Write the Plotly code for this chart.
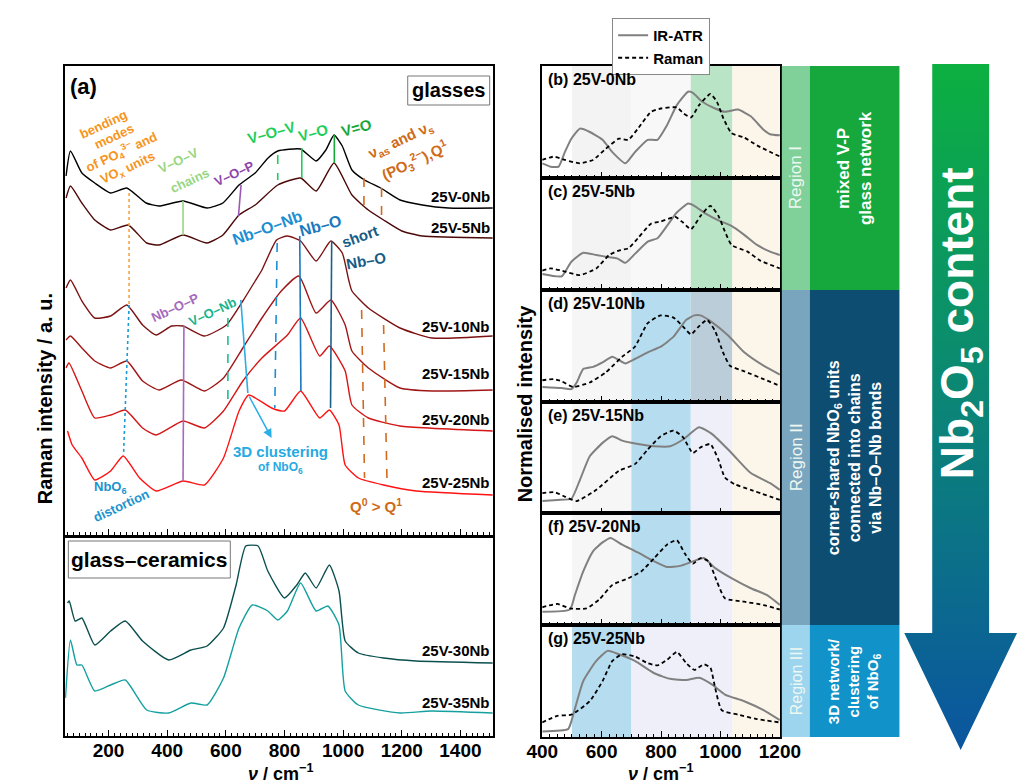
import plotly.graph_objects as go

W, H = 1032, 782
FONT = "Arial, 'Liberation Sans', Helvetica, sans-serif"

# ---------------- data: panel (a), Raman spectra (arbitrary offset intensity) ----------------
wn_0Nb = [55, 70, 109, 153, 207, 262, 328, 372, 454, 536, 590, 645, 700, 744, 777, 855, 908, 941, 969, 997, 1030, 1073, 1128, 1194, 1270, 1359, 1510]
int_0Nb = [359, 384, 362, 352, 342, 347, 332, 329, 334, 327, 332, 350, 362, 377, 384, 386, 374, 385, 400, 389, 365, 355, 347, 335, 330, 327, 327]

wn_5Nb = [55, 70, 109, 153, 207, 267, 330, 372, 454, 536, 590, 645, 700, 777, 855, 908, 969, 1030, 1086, 1138, 1200, 1270, 1510]
int_5Nb = [337, 349, 332, 315, 305, 310, 292, 290, 300, 292, 300, 320, 330, 350, 357, 344, 372, 340, 325, 315, 304, 299, 297]

wn_10Nb = [55, 70, 109, 153, 207, 262, 316, 362, 415, 454, 527, 602, 658, 700, 723, 773, 810, 855, 908, 958, 997, 1019, 1030, 1086, 1194, 1303, 1510]
int_10Nb = [247, 255, 234, 217, 219, 230, 210, 200, 209, 209, 199, 210, 234, 254, 265, 295, 299, 294, 274, 294, 282, 255, 244, 227, 207, 197, 199]

wn_15Nb = [55, 70, 109, 153, 207, 262, 316, 372, 448, 527, 592, 658, 723, 789, 849, 908, 958, 1007, 1030, 1086, 1194, 1303, 1510]
int_15Nb = [195, 199, 187, 174, 167, 174, 154, 145, 155, 144, 157, 187, 217, 244, 259, 222, 235, 210, 184, 167, 147, 144, 145]

wn_20Nb = [55, 65, 109, 153, 207, 257, 316, 362, 454, 527, 592, 658, 723, 810, 855, 920, 953, 1007, 1030, 1086, 1194, 1510]
int_20Nb = [167, 172, 144, 117, 120, 125, 107, 100, 114, 107, 124, 154, 177, 200, 217, 179, 189, 164, 130, 117, 109, 104]

wn_25Nb = [60, 76, 109, 153, 207, 250, 306, 362, 454, 527, 592, 645, 678, 756, 800, 855, 920, 953, 986, 1007, 1052, 1138, 1249, 1510]
int_25Nb = [104, 90, 77, 55, 64, 79, 57, 44, 54, 50, 77, 124, 140, 127, 124, 144, 117, 125, 110, 70, 57, 50, 44, 40]

wn_30Nb = [60, 66, 86, 109, 153, 207, 257, 316, 405, 481, 536, 592, 635, 668, 710, 743, 800, 842, 871, 908, 953, 986, 1007, 1052, 1138, 1249, 1510]
int_30Nb = [133, 135, 115, 118, 91, 105, 115, 95, 76, 86, 90, 108, 151, 190, 190, 165, 138, 151, 163, 148, 171, 145, 95, 83, 78, 75, 73]

wn_35Nb = [53, 70, 92, 109, 153, 207, 257, 330, 405, 481, 536, 592, 645, 690, 743, 777, 810, 855, 908, 948, 986, 1007, 1052, 1194, 1300, 1510]
int_35Nb = [38, 96, 71, 71, 45, 51, 56, 26, 23, 33, 31, 58, 108, 131, 125, 116, 125, 153, 125, 130, 111, 45, 31, 23, 25, 23]

glass_names = ["25V-0Nb", "25V-5Nb", "25V-10Nb", "25V-15Nb", "25V-20Nb", "25V-25Nb"]
ceramic_names = ["25V-30Nb", "25V-35Nb"]

# ---------------- data: panels (b)-(g), normalised IR-ATR and Raman ----------------
ir_wn_b = [400, 428, 455, 476, 498, 527, 560, 603, 636, 680, 712, 755, 788, 820, 853, 891, 907, 939, 982, 1015, 1059, 1102, 1145, 1167, 1200]
ir_b = [0.13, 0.10, 0.10, 0.23, 0.35, 0.44, 0.41, 0.34, 0.23, 0.13, 0.23, 0.34, 0.34, 0.47, 0.65, 0.77, 0.76, 0.68, 0.62, 0.59, 0.61, 0.55, 0.43, 0.39, 0.38]
ra_wn_b = [400, 440, 476, 527, 571, 614, 658, 690, 722, 766, 799, 853, 874, 901, 928, 966, 988, 1010, 1037, 1080, 1123, 1200]
ra_b = [0.16, 0.19, 0.16, 0.13, 0.16, 0.26, 0.35, 0.34, 0.44, 0.59, 0.62, 0.63, 0.58, 0.54, 0.65, 0.75, 0.68, 0.53, 0.40, 0.36, 0.29, 0.19]

ir_wn_c = [400, 466, 498, 538, 582, 625, 652, 680, 712, 755, 788, 820, 853, 891, 912, 950, 993, 1037, 1080, 1123, 1167, 1200]
ir_c = [0.14, 0.12, 0.25, 0.33, 0.31, 0.29, 0.28, 0.24, 0.32, 0.43, 0.46, 0.57, 0.69, 0.77, 0.75, 0.68, 0.62, 0.57, 0.49, 0.40, 0.34, 0.31]
ra_wn_c = [400, 428, 466, 527, 582, 625, 658, 690, 722, 766, 799, 848, 874, 901, 933, 966, 993, 1015, 1037, 1091, 1134, 1200]
ra_c = [0.17, 0.19, 0.17, 0.13, 0.19, 0.31, 0.35, 0.37, 0.46, 0.59, 0.61, 0.65, 0.60, 0.54, 0.66, 0.75, 0.66, 0.52, 0.40, 0.34, 0.26, 0.19]

ir_wn_d = [400, 466, 498, 516, 538, 571, 603, 636, 658, 680, 712, 755, 799, 842, 885, 912, 933, 971, 1026, 1080, 1145, 1200]
ir_d = [0.13, 0.12, 0.11, 0.17, 0.29, 0.31, 0.35, 0.40, 0.37, 0.34, 0.38, 0.44, 0.49, 0.58, 0.73, 0.77, 0.77, 0.71, 0.59, 0.44, 0.32, 0.24]
ra_wn_d = [400, 440, 466, 504, 560, 614, 669, 712, 755, 799, 842, 874, 901, 923, 955, 982, 1010, 1032, 1080, 1145, 1200]
ra_d = [0.19, 0.20, 0.18, 0.13, 0.17, 0.26, 0.40, 0.49, 0.70, 0.77, 0.75, 0.67, 0.60, 0.66, 0.73, 0.63, 0.43, 0.32, 0.27, 0.20, 0.14]

ir_wn_e = [400, 451, 498, 527, 560, 603, 636, 669, 722, 777, 831, 874, 928, 971, 1037, 1102, 1167, 1200]
ir_e = [0.11, 0.12, 0.13, 0.30, 0.51, 0.63, 0.69, 0.65, 0.62, 0.60, 0.60, 0.66, 0.77, 0.71, 0.54, 0.36, 0.27, 0.21]
ra_wn_e = [400, 440, 476, 516, 582, 658, 712, 755, 799, 842, 874, 907, 933, 966, 993, 1015, 1048, 1102, 1200]
ra_e = [0.18, 0.19, 0.15, 0.11, 0.21, 0.38, 0.44, 0.57, 0.69, 0.74, 0.68, 0.54, 0.59, 0.62, 0.48, 0.32, 0.26, 0.21, 0.12]

ir_wn_f = [400, 493, 510, 538, 571, 603, 630, 669, 722, 777, 820, 864, 907, 944, 982, 1037, 1102, 1156, 1200]
ir_f = [0.12, 0.14, 0.27, 0.48, 0.66, 0.74, 0.78, 0.72, 0.65, 0.57, 0.52, 0.53, 0.57, 0.60, 0.51, 0.42, 0.33, 0.27, 0.18]
ra_wn_f = [400, 451, 493, 549, 592, 636, 690, 733, 777, 820, 853, 880, 907, 933, 960, 988, 1015, 1080, 1145, 1200]
ra_f = [0.16, 0.19, 0.15, 0.15, 0.23, 0.36, 0.42, 0.48, 0.60, 0.72, 0.76, 0.64, 0.55, 0.60, 0.57, 0.39, 0.24, 0.21, 0.18, 0.14]

ir_wn_g = [400, 487, 498, 538, 582, 620, 658, 712, 777, 831, 885, 928, 971, 1015, 1080, 1145, 1200]
ir_g = [0.05, 0.07, 0.14, 0.50, 0.68, 0.77, 0.74, 0.68, 0.57, 0.52, 0.51, 0.53, 0.47, 0.38, 0.32, 0.24, 0.15]
ra_wn_g = [400, 451, 498, 560, 603, 636, 669, 712, 755, 788, 820, 853, 885, 912, 944, 966, 982, 1004, 1059, 1123, 1200]
ra_g = [0.13, 0.19, 0.20, 0.32, 0.50, 0.68, 0.74, 0.72, 0.66, 0.64, 0.69, 0.76, 0.66, 0.60, 0.65, 0.62, 0.44, 0.24, 0.20, 0.16, 0.13]

panel_labels = ["(b) 25V-0Nb", "(c) 25V-5Nb", "(d) 25V-10Nb", "(e) 25V-15Nb", "(f) 25V-20Nb", "(g) 25V-25Nb"]

left_ticks = [200, 400, 600, 800, 1000, 1200, 1400]
right_ticks = [400, 600, 800, 1000, 1200]

# ---------------- helpers ----------------
def X(p):
    return p / W

def Y(p):
    return 1 - p / H

fig = go.Figure()

SMOOTH = 0.5

# ---------------- left panel (a) ----------------
glass_colors = ["#000000", "#4d0909", "#7d1212", "#a01616", "#d41616", "#ff1212"]
glass_wn = [wn_0Nb, wn_5Nb, wn_10Nb, wn_15Nb, wn_20Nb, wn_25Nb]
glass_int = [int_0Nb, int_5Nb, int_10Nb, int_15Nb, int_20Nb, int_25Nb]
for name, xs, ys, c in zip(glass_names, glass_wn, glass_int, glass_colors):
    fig.add_trace(go.Scatter(x=xs, y=ys, mode="lines", name=name,
                             line=dict(color=c, width=1.4, shape="spline", smoothing=SMOOTH),
                             xaxis="x", yaxis="y", showlegend=False, hoverinfo="skip"))

cer_colors = ["#0b4f4f", "#15a0a0"]
for name, xs, ys, c in zip(ceramic_names, [wn_30Nb, wn_35Nb], [int_30Nb, int_35Nb], cer_colors):
    fig.add_trace(go.Scatter(x=xs, y=ys, mode="lines", name=name,
                             line=dict(color=c, width=1.4, shape="spline", smoothing=SMOOTH),
                             xaxis="x2", yaxis="y2", showlegend=False, hoverinfo="skip"))

# ---------------- right panels (b)-(g) ----------------
ir_sets = [(ir_wn_b, ir_b), (ir_wn_c, ir_c), (ir_wn_d, ir_d), (ir_wn_e, ir_e), (ir_wn_f, ir_f), (ir_wn_g, ir_g)]
ra_sets = [(ra_wn_b, ra_b), (ra_wn_c, ra_c), (ra_wn_d, ra_d), (ra_wn_e, ra_e), (ra_wn_f, ra_f), (ra_wn_g, ra_g)]
for k in range(6):
    xa, ya = f"x{k+3}", f"y{k+3}"
    fig.add_trace(go.Scatter(x=ir_sets[k][0], y=ir_sets[k][1], mode="lines", name="<b>IR-ATR</b>",
                             line=dict(color="#808080", width=2, shape="spline", smoothing=SMOOTH),
                             xaxis=xa, yaxis=ya, showlegend=(k == 0), legendrank=1, hoverinfo="skip"))
    fig.add_trace(go.Scatter(x=ra_sets[k][0], y=ra_sets[k][1], mode="lines", name="<b>Raman</b>",
                             line=dict(color="black", width=1.8, dash="4px,3px", shape="spline", smoothing=SMOOTH),
                             xaxis=xa, yaxis=ya, showlegend=(k == 0), legendrank=2, hoverinfo="skip"))

# ---------------- arrow with gradient ----------------
arrow_x = [942, 1001, 1001, 1030, 971.5, 913, 942, 942]
arrow_y = [H - 56, H - 56, H - 625, H - 625, H - 742, H - 625, H - 625, H - 56]
fig.add_trace(go.Scatter(x=arrow_x, y=arrow_y, xaxis="x9", yaxis="y9", mode="lines", fill="toself",
                         line=dict(width=0, color="rgba(0,0,0,0)"),
                         fillgradient=dict(type="vertical", colorscale=[[0, "#0b55a0"], [0.5, "#0b8577"], [1, "#0cb040"]]),
                         showlegend=False, hoverinfo="skip"))

# ---------------- axes ----------------
tickfont = dict(family=FONT, size=19, color="black")
LX0, LX1 = 42.7, 486.7
RX0, RX1 = 537.5, 784.0

def xax(domain, rng, tvals, minor, labels, anchor):
    return dict(domain=domain, range=rng, anchor=anchor, showline=True, linecolor="black", linewidth=1.6, mirror=True,
                ticks="inside", ticklen=6, tickwidth=1.3, tickcolor="black",
                tickmode="array", tickvals=tvals, ticktext=[f"<b>{v}</b>" for v in tvals],
                minor=dict(ticks="inside", ticklen=3, tickwidth=1, tickcolor="black", dtick=minor, tick0=0),
                showgrid=False, zeroline=False, showticklabels=labels, tickfont=tickfont, ticklabelstandoff=-4)

def yax(domain, rng, anchor):
    return dict(domain=domain, range=rng, anchor=anchor, showline=True, linecolor="black", linewidth=1.6, mirror=True,
                ticks="", showticklabels=False, showgrid=False, zeroline=False)

layout_axes = {}
layout_axes["xaxis"] = xax([X(LX0), X(LX1)], [52, 1512], left_ticks, 20, False, "y")
layout_axes["yaxis"] = yax([Y(527), Y(58)], [0, 469], "x")
layout_axes["xaxis2"] = xax([X(LX0), X(LX1)], [52, 1512], left_ticks, 20, True, "y2")
layout_axes["yaxis2"] = yax([Y(728), Y(530)], [0, 198], "x2")
ph = (729 - 58) / 6.0
for k in range(6):
    top = 58 + k * ph
    bot = top + ph
    layout_axes[f"xaxis{k+3}"] = xax([X(RX0), X(RX1)], [400, 1200], right_ticks, 25, k == 5, f"y{k+3}")
    layout_axes[f"yaxis{k+3}"] = yax([Y(bot), Y(top)], [0, 1], f"x{k+3}")
layout_axes["xaxis9"] = dict(domain=[0, 1], range=[0, W], visible=False, anchor="y9", fixedrange=True)
layout_axes["yaxis9"] = dict(domain=[0, 1], range=[0, H], visible=False, anchor="x9", fixedrange=True)

fig.update_layout(**layout_axes)

# ---------------- shapes ----------------
shapes = []
bands = [
    [(500, 700, "#f3f3f3"), (700, 900, "#f8f8f8"), (900, 1040, "#b9e5c6"), (1040, 1200, "#fcf5ea")],
    [(500, 700, "#f3f3f3"), (700, 900, "#f8f8f8"), (900, 1040, "#b9e5c6"), (1040, 1200, "#fcf5ea")],
    [(500, 700, "#f6f6f6"), (700, 900, "#b6dcef"), (900, 1040, "#bccdda"), (1040, 1200, "#fcf5ea")],
    [(500, 700, "#f6f6f6"), (700, 900, "#b6dcef"), (900, 1040, "#eeeff8"), (1040, 1200, "#fcf5ea")],
    [(500, 700, "#f6f6f6"), (700, 900, "#b6dcef"), (900, 1040, "#eeeff8"), (1040, 1200, "#fcf5ea")],
    [(500, 700, "#b6dcef"), (700, 1040, "#eeeff8"), (1040, 1200, "#fcf5ea")],
]
for k, bl in enumerate(bands):
    for x0, x1, c in bl:
        shapes.append(dict(type="rect", xref=f"x{k+3}", yref=f"y{k+3} domain", x0=x0, x1=x1, y0=0, y1=1,
                           fillcolor=c, line=dict(width=0), layer="below"))

# marker lines in panel (a): (x0, y0, x1, y1, color, dash)
marks = [
    (270, 342, 270, 230, "#f9a23b", "dot"),
    (270, 230, 251, 80, "#1a9ad6", "dot"),
    (454, 334, 454, 300, "#98d67f", "solid"),
    (652, 350, 643, 319, "#9b59b6", "solid"),
    (457, 209, 454, 54, "#a569bd", "solid"),
    (777, 380, 777, 355, "#1fce5a", "dash"),
    (859, 387, 859, 357, "#1fce5a", "solid"),
    (970, 400, 970, 372, "#18a83a", "solid"),
    (1071, 357, 1071, 329, "#d2691e", "dash"),
    (1131, 347, 1131, 317, "#d2691e", "dash"),
    (775, 292, 767, 127, "#1b8fd2", "dash"),
    (852, 299, 856, 144, "#1a78bd", "solid"),
    (961, 294, 957, 127, "#1b5f8b", "solid"),
    (607, 217, 607, 130, "#17c08f", "dash"),
    (651, 235, 675, 142, "#29aee6", "solid"),
    (1063, 225, 1073, 57, "#d2691e", "dash"),
    (1138, 210, 1150, 50, "#d2691e", "dash"),
]
for x0, y0, x1, y1, c, d in marks:
    shapes.append(dict(type="line", xref="x", yref="y", x0=x0, y0=y0, x1=x1, y1=y1, line=dict(color=c, width=1.6, dash=d)))

shapes.append(dict(type="rect", xref="paper", yref="paper", x0=X(398), x1=X(483), y0=Y(97), y1=Y(68),
                   line=dict(color="#777777", width=1), fillcolor="white"))
shapes.append(dict(type="rect", xref="paper", yref="paper", x0=X(46), x1=X(214), y0=Y(570), y1=Y(533),
                   line=dict(color="#777777", width=1), fillcolor="white"))

regions = [
    (58, 282, "#80d09a", "#16a83c"),
    (282, 617, "#7aa5be", "#0d4d72"),
    (617, 729, "#9dd4ee", "#1193c9"),
]
for y0, y1, c1, c2 in regions:
    shapes.append(dict(type="rect", xref="paper", yref="paper", x0=X(786), x1=X(815), y0=Y(y1), y1=Y(y0),
                       fillcolor=c1, line=dict(width=0)))
    shapes.append(dict(type="rect", xref="paper", yref="paper", x0=X(815), x1=X(908), y0=Y(y1), y1=Y(y0),
                       fillcolor=c2, line=dict(width=0)))

fig.update_layout(shapes=shapes)

# ---------------- annotations ----------------
def txt(text, x, y, color="black", size=14, angle=0, bold=True, xanchor="center", yanchor="middle"):
    fig.add_annotation(text=(f"<b>{text}</b>" if bold else text), x=X(x), y=Y(y), xref="paper", yref="paper",
                       showarrow=False, font=dict(family=FONT, size=size, color=color), textangle=angle,
                       xanchor=xanchor, yanchor=yanchor)

txt("(a)", 62, 78, size=22)
txt("glasses", 440, 82, size=20)
txt("glass–ceramics", 130, 551, size=21)

OR = "#f7941d"
txt("bending", 82, 116, OR, 13, -25)
txt("modes", 93, 128, OR, 13, -25)
txt("of PO<sub>4</sub><sup>3−</sup> and", 101, 144, OR, 13, -25)
txt("VO<sub>x</sub> units", 108, 161, OR, 13, -25)
txt("V–O–V", 160, 152, "#98d67f", 13, -25)
txt("chains", 172, 172, "#98d67f", 13, -25)
txt("V–O–P", 218, 165, "#8e44ad", 13, -25)
txt("V–O–V", 256, 124, "#1fce5a", 15, -15)
txt("V–O", 300, 124, "#1fce5a", 15, -15)
txt("V=O", 345, 119, "#18a83a", 15, -15)
BR = "#cf6a18"
txt("ν<sub>as</sub> and ν<sub>s</sub>", 390, 132, BR, 15, -25)
txt("(PO<sub>3</sub><sup>2−</sup>),Q<sup>1</sup>", 405, 152, BR, 15, -25)
txt("Nb–O–Nb", 253, 220, "#1b8fd2", 16, -20)
txt("Nb–O", 308, 217, "#1a78bd", 16, -15)
txt("short", 348, 228, "#175c86", 15, -20)
txt("Nb–O", 355, 252, "#175c86", 15, -10)
txt("Nb–O–P", 157, 300, "#a569bd", 13, -25)
txt("V–O–Nb", 196, 303, "#17b48e", 13, -25)
txt("3D clustering", 266, 443, "#27aae1", 15)
txt("of NbO<sub>6</sub>", 266, 460, "#27aae1", 12)
txt("NbO<sub>6</sub>", 90, 479, "#1c93cf", 13)
txt("distortion", 101, 497, "#1c93cf", 13, -25)
txt("Q<sup>0</sup> > Q<sup>1</sup>", 365, 497, BR, 15)

label_y = [188, 220, 318, 366, 411, 474]
for name, yy in zip(glass_names, label_y):
    txt(name, 485, yy, "black", 15, xanchor="right")
for name, yy in zip(ceramic_names, [642, 694]):
    txt(name, 485, yy, "black", 15, xanchor="right")

fig.add_annotation(x=756, y=97, ax=677, ay=140, xref="x", yref="y", axref="x", ayref="y", text="",
                   showarrow=True, arrowhead=2, arrowsize=1.2, arrowwidth=1.5, arrowcolor="#29aee6")

for k, lab in enumerate(panel_labels):
    top = 58 + k * ph
    txt(lab, 541, top + 3, "black", 16, xanchor="left", yanchor="top")

txt("Raman intensity / a. u.", 22, 391, "black", 20, -90)
txt("Normalised intensity", 520, 395, "black", 20, -90)
txt("<i>ν</i> / cm<sup>−1</sup>", 266, 764, "black", 18, yanchor="middle")
txt("<i>ν</i> / cm<sup>−1</sup>", 660, 764, "black", 18, yanchor="middle")

WT = "#eef8f2"
txt("Region I", 801, 170, WT, 17, -90, bold=False)
txt("mixed V-P<br>glass network", 862, 160, "white", 17, -90)
txt("Region II", 801, 449, WT, 17, -90, bold=False)
txt("corner-shared NbO<sub>6</sub> units<br>connected into chains<br>via Nb–O–Nb bonds", 861, 450, "white", 16, -90)
txt("Region III", 801, 673, WT, 16, -90, bold=False)
txt("3D network/<br>clustering<br>of NbO<sub>6</sub>", 861, 673, "white", 15, -90)

txt("Nb<sub>2</sub>O<sub>5</sub> content", 971, 315, "white", 46, -90)

# ---------------- layout ----------------
fig.update_layout(
    width=W, height=H, autosize=False,
    margin=dict(l=0, r=0, t=0, b=0),
    paper_bgcolor="white", plot_bgcolor="rgba(0,0,0,0)",
    font=dict(family=FONT, color="black"),
    legend=dict(x=X(610), y=Y(10), xanchor="left", yanchor="top", bgcolor="white", bordercolor="#888888", borderwidth=1,
                font=dict(family=FONT, size=15, color="black"), itemwidth=30, tracegroupgap=0,
                traceorder="normal"),
)

fig.write_html("out.html")
